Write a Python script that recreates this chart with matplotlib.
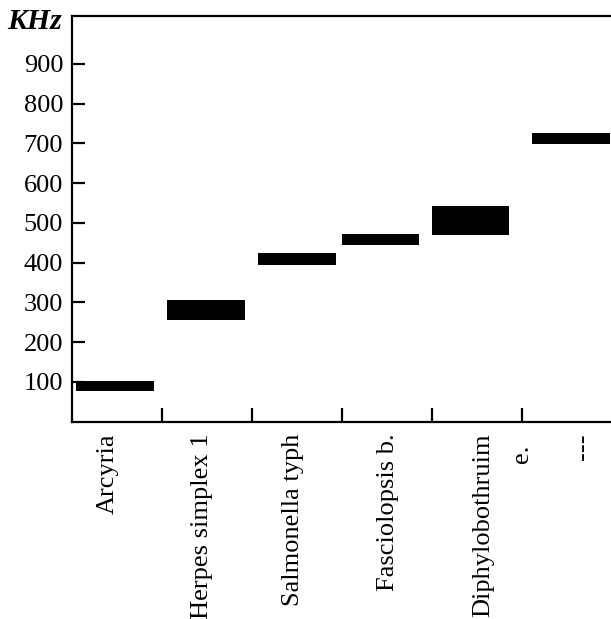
import matplotlib
matplotlib.use("Agg")
import matplotlib.pyplot as plt
import matplotlib.transforms as mtransforms

# Data (kHz ranges)
categories = ["Arcyria", "Herpes simplex 1", "Salmonella typh", "Fasciolopsis b.", "Diphylobothruim", "---"]
low_khz = [76, 256, 395, 443, 470, 697]
high_khz = [102, 306, 424, 471, 542, 726]
y_ticks = [100, 200, 300, 400, 500, 600, 700, 800, 900]

# layout: bar left offsets within each category slot, label positions
bar_offset = [0.04, 0.05, 0.065, -0.01, -0.01, 0.11]
bar_width = 0.865
label_x = [0.394, 1.436, 2.447, 3.506, 4.561, 5.67]
extra_label = "e."
extra_label_x = 4.994

plt.rcParams['font.family'] = ['Liberation Serif', 'DejaVu Serif']

fig = plt.figure(figsize=(6.11, 6.19), dpi=100)
W, H = 611, 619
ax = fig.add_axes([71.5 / W, (H - 421.7) / H, (612.5 - 71.5) / W, (421.7 - 16) / H])

for i in range(len(categories)):
    ax.bar(i + bar_offset[i], high_khz[i] - low_khz[i], bottom=low_khz[i],
           width=bar_width, align='edge', color='black', linewidth=0)

ax.set_xlim(-0.011, 6.0)
ax.set_ylim(0, 1020)

ax.set_yticks(y_ticks)
ax.set_yticklabels([str(v) for v in y_ticks], fontsize=19)
ax.set_xticks([1, 2, 3, 4, 5])
ax.set_xticklabels([])

ax.tick_params(axis='y', direction='in', length=9, width=1.6, pad=6)
ax.tick_params(axis='x', direction='in', length=10, width=1.6)

for s in ['left', 'bottom', 'top']:
    ax.spines[s].set_linewidth(1.6)
ax.spines['right'].set_visible(False)

trans = mtransforms.blended_transform_factory(ax.transData, ax.transAxes)
top_off = -11.5 / 405.7
for x, lab in zip(label_x, categories):
    ax.text(x, top_off, lab, transform=trans, rotation=90, ha='center', va='top',
            fontsize=19)
ax.text(extra_label_x, -23 / 405.7, extra_label, transform=trans, rotation=90,
        ha='center', va='top', fontsize=19)

ax.text(-9.5 / 541, (421.7 - 29) / 405.7, "KHz", transform=ax.transAxes, ha='right',
        va='baseline', fontsize=21.5, fontweight='bold', fontstyle='italic')

fig.savefig("out.png", dpi=100)
